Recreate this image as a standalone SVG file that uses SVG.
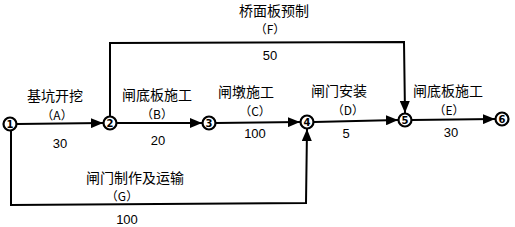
<svg xmlns="http://www.w3.org/2000/svg" width="515" height="227" viewBox="0 0 515 227">
<style>
.ln{fill:none;stroke:#000;stroke-width:2}
.nd circle{fill:#fff;stroke:#000;stroke-width:2.2}
.nd text{font-family:"DejaVu Sans","Liberation Sans",sans-serif;font-weight:bold;font-size:10px;text-anchor:middle}
.t{font-family:"Noto Sans CJK SC","Noto Sans CJK JP",sans-serif;font-size:14px;text-anchor:middle;fill:#000}
.p{font-family:"Noto Sans CJK SC","Noto Sans CJK JP",sans-serif;font-size:12px;text-anchor:middle;fill:#000}
.n{font-family:"Liberation Sans","Noto Sans",sans-serif;font-size:13px;text-anchor:middle;fill:#000}
</style>
<defs>
<marker id="ah" markerUnits="userSpaceOnUse" markerWidth="12" markerHeight="10" refX="12" refY="5" orient="auto">
<path d="M0,0 L12,5 L0,10 Z" fill="#000"/>
</marker>
</defs>
<rect width="515" height="227" fill="#fff"/>
<g id="connectors">
<path class="ln" d="M17,124 L103,123" marker-end="url(#ah)"/>
<path class="ln" d="M117,123 L202,123" marker-end="url(#ah)"/>
<path class="ln" d="M216,123 L300,122" marker-end="url(#ah)"/>
<path class="ln" d="M314,122 L398,120" marker-end="url(#ah)"/>
<path class="ln" d="M412,120 L495,119" marker-end="url(#ah)"/>
<path class="ln" d="M110,116 L110,43 L404,42 L405,113" marker-end="url(#ah)"/>
<path class="ln" d="M11,131 L11,205 L306,203 L307,129" marker-end="url(#ah)"/>
</g>
<g id="n1" class="nd"><circle cx="10" cy="124" r="6.5"/><text x="10" y="127.5">1</text></g>
<g id="n2" class="nd"><circle cx="110" cy="123" r="6.5"/><text x="110" y="126.5">2</text></g>
<g id="n3" class="nd"><circle cx="209" cy="123" r="6.5"/><text x="209" y="126.5">3</text></g>
<g id="n4" class="nd"><circle cx="307" cy="122" r="6.5"/><text x="307" y="125.5">4</text></g>
<g id="n5" class="nd"><circle cx="405" cy="120" r="6.5"/><text x="405" y="123.5">5</text></g>
<g id="n6" class="nd"><circle cx="502" cy="119" r="6.5"/><text x="502" y="122.5">6</text></g>
<g id="labels">
<text class="t" x="55" y="101">基坑开挖</text>
<text class="p" x="57" y="120">（A）</text>
<text class="n" x="60" y="148">30</text>
<text class="t" x="157" y="100">闸底板施工</text>
<text class="p" x="157" y="119">（B）</text>
<text class="n" x="158" y="145">20</text>
<text class="t" x="246" y="97">闸墩施工</text>
<text class="p" x="255" y="116">（C）</text>
<text class="n" x="255" y="138">100</text>
<text class="t" x="339" y="96">闸门安装</text>
<text class="p" x="348" y="115">（D）</text>
<text class="n" x="346" y="138">5</text>
<text class="t" x="448" y="96">闸底板施工</text>
<text class="p" x="449" y="115">（E）</text>
<text class="n" x="451" y="137">30</text>
<text class="t" x="274" y="16">桥面板预制</text>
<text class="p" x="270" y="34">（F）</text>
<text class="n" x="270" y="60">50</text>
<text class="t" x="135" y="183">闸门制作及运输</text>
<text class="p" x="122" y="201">（G）</text>
<text class="n" x="127" y="224">100</text>
</g>
</svg>
